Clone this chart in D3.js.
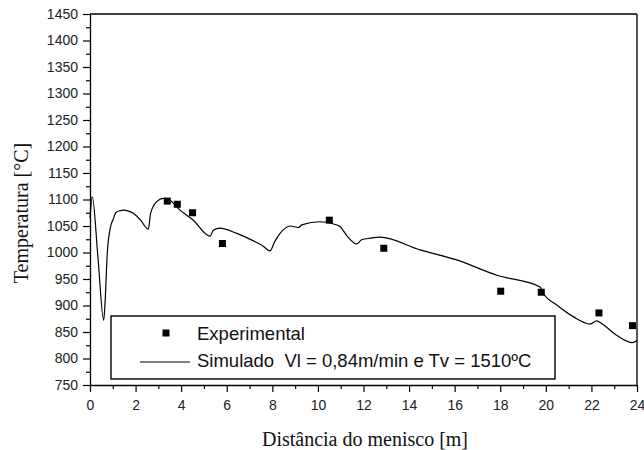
<!DOCTYPE html>
<html>
<head>
<meta charset="utf-8">
<script src="https://cdn.jsdelivr.net/npm/d3@7"></script>
<style>
  body { margin: 0; background: #fff; }
  svg { display: block; }
</style>
</head>
<body>
<svg id="chart" width="644" height="450"></svg>
<script>
// experimental measurements
var exp_x = [3.39, 3.83, 4.5, 5.81, 10.5, 12.89, 18.02, 19.8, 22.33, 23.8];
var exp_y = [1097, 1091, 1075, 1017, 1061, 1008, 927, 925, 886, 862];

// simulated curve
var sim_x = [0, 0.1, 0.35, 0.6, 0.66, 0.76, 0.91, 1.02, 1.13, 1.32, 1.46, 1.7, 1.9, 2.2, 2.56,
     2.66, 2.93, 3.22, 3.45, 3.95, 4.53, 5.27, 5.41, 5.7, 6.44, 7.17, 7.6, 7.9, 8.1, 8.34,
     8.78, 9.14, 9.29, 10.09, 10.83, 10.97, 11.3, 11.7, 11.92, 12.3, 12.72, 14.48, 16.09,
     17.85, 19.75, 19.89, 20.48, 21.2, 21.94, 22.23, 22.45, 23.1, 23.8, 24];
var sim_y = [1065, 1105, 990, 872, 905, 1000, 1050, 1063, 1075, 1079, 1080, 1078, 1074, 1062, 1044,
     1074, 1096, 1102, 1100, 1080, 1061, 1031, 1042, 1046, 1036, 1022, 1012, 1003, 1020, 1036,
     1050, 1047, 1052, 1058, 1052, 1049, 1030, 1016, 1024, 1027, 1029, 1005, 986,
     957, 935, 923, 901, 879, 865, 871, 866, 844, 830, 834];

var x_ticks = [0, 2, 4, 6, 8, 10, 12, 14, 16, 18, 20, 22, 24];
var y_ticks = [750, 800, 850, 900, 950, 1000, 1050, 1100, 1150, 1200, 1250, 1300, 1350, 1400, 1450];

var legend_labels = ['Experimental', 'Simulado  Vl = 0,84m/min e Tv = 1510ºC'];

var svg = d3.select('#chart');
var margin = { top: 14, bottom: 65, left: 90, right: 7 };
var inner_width = 644 - margin.left - margin.right;
var inner_height = 450 - margin.top - margin.bottom;

var x_scale = d3.scaleLinear().domain([0, 24]).range([0, inner_width]);
var y_scale = d3.scaleLinear().domain([750, 1450]).range([inner_height, 0]);

var g = svg.append('g')
     .attr('transform', 'translate(' + margin.left + ',' + margin.top + ')');

// minor ticks
var x_minor = d3.range(1, 24, 2);
var y_minor = d3.range(775, 1450, 50);

g.append('g')
     .attr('transform', 'translate(0,' + inner_height + ')')
     .call(d3.axisBottom(x_scale).tickValues(x_minor).tickSize(4).tickFormat(''))
     .call(a => a.select('.domain').remove())
     .selectAll('line').attr('stroke', '#000').attr('stroke-width', 1.2);

g.append('g')
     .call(d3.axisLeft(y_scale).tickValues(y_minor).tickSize(4).tickFormat(''))
     .call(a => a.select('.domain').remove())
     .selectAll('line').attr('stroke', '#000').attr('stroke-width', 1.2);

// major axes
var x_axis = g.append('g')
     .attr('transform', 'translate(0,' + inner_height + ')')
     .call(d3.axisBottom(x_scale).tickValues(x_ticks).tickSize(7).tickPadding(8)
          .tickSizeOuter(0).tickFormat(d3.format('d')));
var y_axis = g.append('g')
     .call(d3.axisLeft(y_scale).tickValues(y_ticks).tickSize(7).tickPadding(5)
          .tickSizeOuter(0).tickFormat(d3.format('d')));

[x_axis, y_axis].forEach(a => {
     a.select('.domain').attr('stroke', '#000').attr('stroke-width', 1.3);
     a.selectAll('line').attr('stroke', '#000').attr('stroke-width', 1.2);
     a.selectAll('text')
          .style('font-family', '"Liberation Sans", Arial, sans-serif')
          .style('font-size', '14px')
          .attr('fill', '#222');
});

// frame top and right
g.append('line')
     .attr('x1', 0).attr('x2', inner_width)
     .attr('y1', 0).attr('y2', 0)
     .attr('stroke', '#000').attr('stroke-width', 1.3);
g.append('line')
     .attr('x1', inner_width).attr('x2', inner_width)
     .attr('y1', 0).attr('y2', inner_height)
     .attr('stroke', '#000').attr('stroke-width', 1.3);

// simulated line
var sim = sim_x.map((x, i) => [x, sim_y[i]]);
var line = d3.line()
     .x(d => x_scale(d[0]))
     .y(d => y_scale(d[1]))
     .curve(d3.curveMonotoneX);

g.append('path')
     .datum(sim)
     .attr('d', line)
     .attr('fill', 'none')
     .attr('stroke', '#000')
     .attr('stroke-width', 1.2);

// experimental squares
var sq = 7;
g.append('g').selectAll('rect')
     .data(exp_x.map((x, i) => [x, exp_y[i]]))
     .enter()
     .append('rect')
     .attr('x', d => x_scale(d[0]) - sq / 2)
     .attr('y', d => y_scale(d[1]) - sq / 2)
     .attr('width', sq)
     .attr('height', sq)
     .attr('fill', '#000');

// legend
var lg = svg.append('g');
lg.append('rect')
     .attr('x', 111).attr('y', 316)
     .attr('width', 444).attr('height', 63)
     .attr('fill', '#fff')
     .attr('stroke', '#000')
     .attr('stroke-width', 1.4);
lg.append('rect')
     .attr('x', 166 - sq / 2).attr('y', 333 - sq / 2)
     .attr('width', sq).attr('height', sq)
     .attr('fill', '#000');
lg.append('line')
     .attr('x1', 140).attr('x2', 190)
     .attr('y1', 362).attr('y2', 362)
     .attr('stroke', '#000').attr('stroke-width', 1.2);
lg.selectAll('text')
     .data(legend_labels)
     .enter()
     .append('text')
     .attr('x', 197)
     .attr('y', (d, i) => i === 0 ? 340 : 367)
     .style('font-family', '"Liberation Sans", Arial, sans-serif')
     .style('font-size', '18.5px')
     .attr('fill', '#111')
     .attr('xml:space', 'preserve')
     .text(d => d);

// axis titles
svg.append('text')
     .attr('x', 365)
     .attr('y', 446)
     .style('text-anchor', 'middle')
     .style('font-family', '"Liberation Serif", "Times New Roman", serif')
     .style('font-size', '20px')
     .attr('fill', '#111')
     .text('Distância do menisco [m]');

svg.append('text')
     .attr('transform', 'translate(28,213) rotate(-90)')
     .style('text-anchor', 'middle')
     .style('font-family', '"Liberation Serif", "Times New Roman", serif')
     .style('font-size', '20px')
     .attr('fill', '#111')
     .text('Temperatura [°C]');
</script>
</body>
</html>
